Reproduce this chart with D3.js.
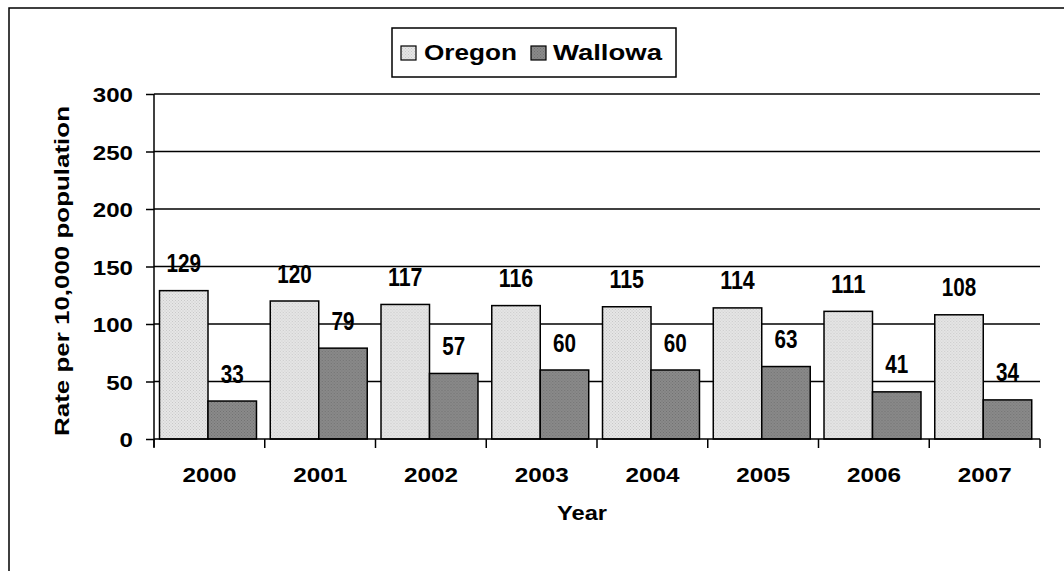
<!DOCTYPE html>
<html><head><meta charset="utf-8">
<script src="https://cdn.jsdelivr.net/npm/d3@7"></script>
<style>body{margin:0;background:#fff}svg{display:block}</style>
</head><body>
<svg id="c" width="1064" height="571"></svg>
<script>
const years = ["2000","2001","2002","2003","2004","2005","2006","2007"];
const seriesNames = ["Oregon","Wallowa"];
const oregon = [129,120,117,116,115,114,111,108];
const wallowa = [33,79,57,60,60,63,41,34];
const yTicks = [0,50,100,150,200,250,300];

const svg = d3.select("#c");
const m = {left:154, right:1040, top:94, bottom:439};

// patterns
const defs = svg.append("defs");
function pat(id, a, b){
  const p = defs.append("pattern").attr("id",id).attr("width",3).attr("height",3).attr("patternUnits","userSpaceOnUse");
  p.append("rect").attr("width",3).attr("height",3).attr("fill",a);
  p.append("rect").attr("width",1).attr("height",1).attr("fill",b);
  p.append("rect").attr("x",1.5).attr("y",1.5).attr("width",1).attr("height",1).attr("fill",b);
}
pat("pO","#e6e6e6","#c8c8c8");
pat("pW","#8a8a8a","#727272");
const fills = ["url(#pO)","url(#pW)"];

// outer border
svg.append("rect").attr("x",9).attr("y",8).attr("width",1200).attr("height",700)
  .attr("fill","none").attr("stroke","#000").attr("stroke-width",1.5);

const x = d3.scaleBand().domain(years).range([m.left,m.right]).paddingInner(0).paddingOuter(0);
const x1 = d3.scaleBand().domain(seriesNames).range([0,x.bandwidth()]).paddingOuter(0.142).paddingInner(0).align(0.4);
const y = d3.scaleLinear().domain([0,300]).range([m.bottom,m.top]);

// gridlines
svg.append("g").selectAll("line").data(yTicks.filter(d=>d>0)).join("line")
  .attr("x1",m.left).attr("x2",m.right).attr("y1",d=>y(d)).attr("y2",d=>y(d))
  .attr("stroke","#000").attr("stroke-width",1.5);

// bars
const data = years.map((yr,i)=>({yr, vals:[oregon[i],wallowa[i]]}));
const g = svg.append("g").selectAll("g").data(data).join("g").attr("transform",d=>`translate(${x(d.yr)},0)`);
g.selectAll("rect").data(d=>d.vals.map((v,j)=>({v,s:seriesNames[j],j}))).join("rect")
  .attr("x",d=>x1(d.s)).attr("width",x1.bandwidth())
  .attr("y",d=>y(d.v)).attr("height",d=>y(0)-y(d.v))
  .attr("fill",d=>fills[d.j]).attr("stroke","#000").attr("stroke-width",1.5);
g.selectAll("text").data(d=>d.vals.map((v,j)=>({v,s:seriesNames[j],j}))).join("text")
  .attr("x",d=>x1(d.s)+x1.bandwidth()/2).attr("y",d=>y(d.v)-18.5)
  .attr("text-anchor","middle")
  .style("font-family","'Liberation Sans',Arial,sans-serif")
  .style("font-weight","bold").style("font-size","25px")
  .attr("textLength",d=>String(d.v).length*11.5).attr("lengthAdjust","spacingAndGlyphs")
  .text(d=>d.v);

// y axis
const ya = svg.append("g").attr("transform",`translate(${m.left},0)`)
  .call(d3.axisLeft(y).tickValues(yTicks).tickSize(8).tickPadding(13));
ya.select(".domain").attr("d",`M0,${m.top}V${m.bottom+8}`).attr("stroke-width",1.5);
ya.selectAll(".tick line").attr("stroke-width",1.5);
ya.selectAll(".tick text").style("font-family","'Liberation Sans',Arial,sans-serif")
  .style("font-weight","bold").style("font-size","21px").attr("fill","#000")
  .attr("dy","0.36em")
  .attr("textLength",d=>String(d).length*13.4).attr("lengthAdjust","spacingAndGlyphs");

// x axis
const xa = svg.append("g").attr("transform",`translate(0,${m.bottom})`)
  .call(d3.axisBottom(x).tickSize(0).tickPadding(0));
xa.select(".domain").attr("d",`M${m.left},0H${m.right}`).attr("stroke-width",1.5);
xa.selectAll(".tick text").attr("y",43).attr("dy",null)
  .style("font-family","'Liberation Sans',Arial,sans-serif")
  .style("font-weight","bold").style("font-size","21px").attr("fill","#000")
  .attr("textLength",54).attr("lengthAdjust","spacingAndGlyphs");
// category boundary ticks
svg.append("g").selectAll("line").data(d3.range(years.length+1)).join("line")
  .attr("x1",i=>m.left+i*x.step()).attr("x2",i=>m.left+i*x.step())
  .attr("y1",m.bottom).attr("y2",m.bottom+9).attr("stroke","#000").attr("stroke-width",1.5);

// axis titles
svg.append("text").attr("transform","translate(69,271) rotate(-90)").attr("text-anchor","middle")
  .style("font-family","'Liberation Sans',Arial,sans-serif").style("font-weight","bold").style("font-size","21px")
  .attr("textLength",330).attr("lengthAdjust","spacingAndGlyphs")
  .text("Rate per 10,000 population");
svg.append("text").attr("x",582).attr("y",520).attr("text-anchor","middle")
  .style("font-family","'Liberation Sans',Arial,sans-serif").style("font-weight","bold").style("font-size","21px")
  .attr("textLength",50).attr("lengthAdjust","spacingAndGlyphs")
  .text("Year");

// legend
const lg = svg.append("g");
lg.append("rect").attr("x",392).attr("y",28).attr("width",284).attr("height",49)
  .attr("fill","#fff").attr("stroke","#000").attr("stroke-width",1.5);
const legX = [401,531], legTX = [424,553], legTL = [93,109];
seriesNames.forEach((s,j)=>{
  lg.append("rect").attr("x",legX[j]).attr("y",46).attr("width",15).attr("height",14)
    .attr("fill",fills[j]).attr("stroke","#000").attr("stroke-width",1.2);
  lg.append("text").attr("x",legTX[j]).attr("y",60)
    .style("font-family","'Liberation Sans',Arial,sans-serif").style("font-weight","bold").style("font-size","22px")
    .attr("textLength",legTL[j]).attr("lengthAdjust","spacingAndGlyphs").text(s);
});
</script>
</body></html>
